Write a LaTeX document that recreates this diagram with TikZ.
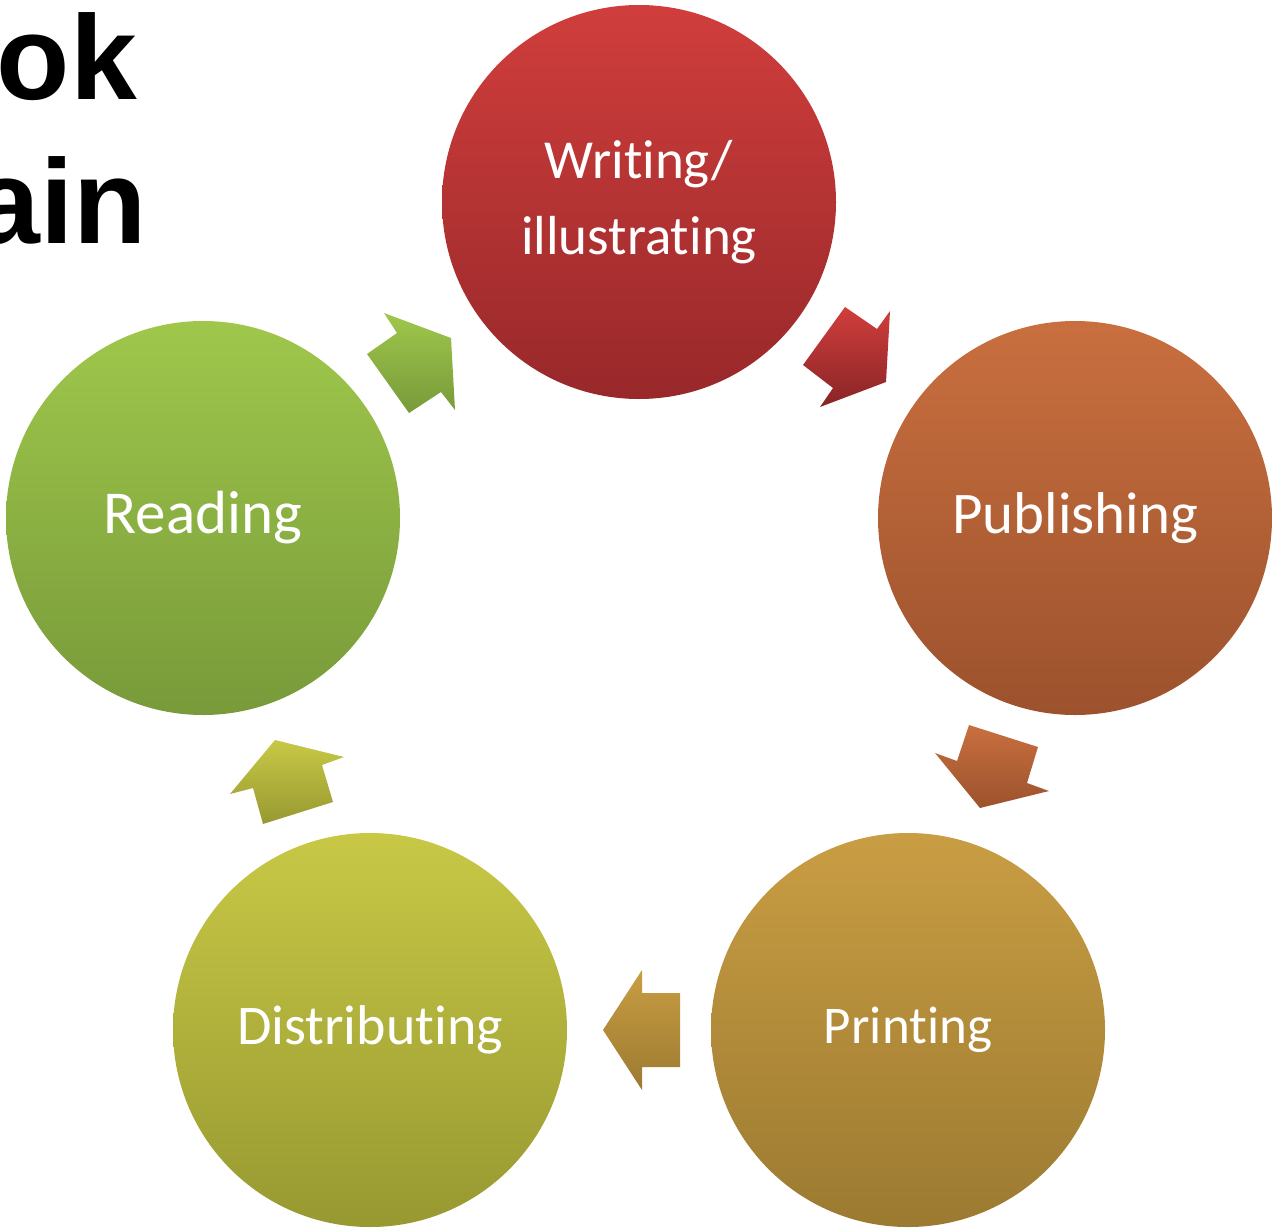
\documentclass[tikz,border=0pt]{standalone}
\usepackage{fontspec}
\newfontfamily\cyclefont{Carlito}[Ligatures=NoCommon]
\newfontfamily\titlefont{Liberation Sans}
\definecolor{wrTop}{HTML}{D03E3C}\definecolor{wrBot}{HTML}{98282A}
\definecolor{puTop}{HTML}{C96F3F}\definecolor{puBot}{HTML}{9C522D}
\definecolor{prTop}{HTML}{C99D43}\definecolor{prBot}{HTML}{9B7A31}
\definecolor{diTop}{HTML}{C8C846}\definecolor{diBot}{HTML}{979931}
\definecolor{reTop}{HTML}{9FC74B}\definecolor{reBot}{HTML}{789A3A}
\tikzset{
  stage/.style={circle,minimum size=394pt,inner sep=0pt,text=white,align=center,
    font=\cyclefont\fontsize{59}{78}\selectfont},
  blockarrow/.style={draw=none}
}
\begin{document}
\begin{tikzpicture}[x=1pt,y=1pt,yscale=-1,xscale=1]
		\useasboundingbox (0,0) rectangle (1273,1228);
		
		% Title (cut off at the left)
		\node (title1) [anchor=base east,inner sep=0pt,font=\titlefont\bfseries\fontsize{120}{120}\selectfont] at (137,100) {ok};
		\node (title2) [anchor=base east,inner sep=0pt,font=\titlefont\bfseries\fontsize{120}{120}\selectfont] at (147,243) {ain};
		
		% Stages
		\node (writing) [stage,top color=wrTop,bottom color=wrBot,font=\cyclefont\fontsize{55}{76}\selectfont] at (639,202) {Writing/\\illustrating};
		\node (publishing) [stage,top color=puTop,bottom color=puBot] at (1075,518) {Publishing};
		\node (printing) [stage,top color=prTop,bottom color=prBot,font=\cyclefont\fontsize{53}{70}\selectfont] at (908,1030) {Printing};
		\node (distributing) [stage,top color=diTop,bottom color=diBot,font=\cyclefont\fontsize{56}{70}\selectfont] at (370,1030) {Distributing};
		\node (reading) [stage,top color=reTop,bottom color=reBot,font=\cyclefont\fontsize{61}{78}\selectfont] at (203,518) {Reading};
		
		% Block arrows
		\shade [blockarrow,top color=wrTop,bottom color=wrBot!90!black] (845,307) -- (877,329) -- (890,311) -- (886,382) -- (820,407) -- (833,388) -- (803,365) -- cycle;
		\shade [blockarrow,top color=puTop,bottom color=puBot] (969,725) -- (1038,747) -- (1027,783) -- (1049,791) -- (980,808) -- (935,753) -- (957,761) -- cycle;
		\shade [blockarrow,top color=prTop,bottom color=prBot] (680,993) -- (642,993) -- (642,970) -- (603,1030) -- (642,1090) -- (642,1067) -- (680,1067) -- cycle;
		\shade [blockarrow,top color=diTop,bottom color=diBot] (263,824) -- (253,788) -- (230,794) -- (275,740) -- (344,757) -- (322,765) -- (333,802) -- cycle;
		\shade [blockarrow,top color=reTop,bottom color=reBot] (409,413) -- (367,354) -- (397,333) -- (384,313) -- (451,338) -- (455,410) -- (441,392) -- cycle;
		
\end{tikzpicture}
\end{document}
